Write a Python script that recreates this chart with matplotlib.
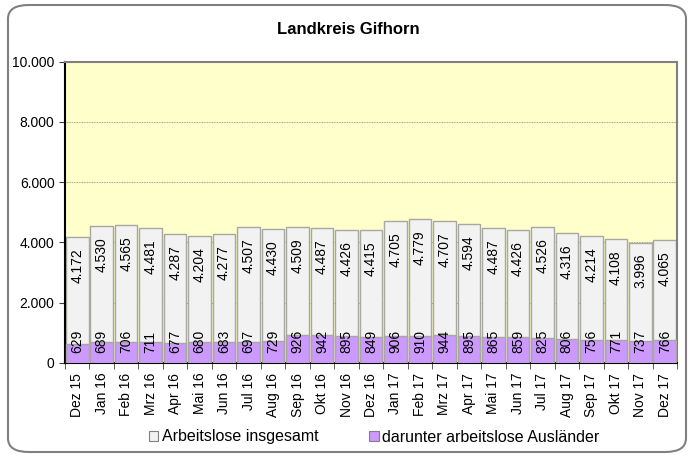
import matplotlib.pyplot as plt
from matplotlib.patches import FancyBboxPatch, Patch
from matplotlib.ticker import FuncFormatter, FixedLocator
import numpy as np

plt.rcParams['font.family'] = ['Liberation Sans', 'DejaVu Sans']

# Monatswerte Dez 2015 bis Dez 2017
months = ['Dez 15', 'Jan 16', 'Feb 16', 'Mrz 16', 'Apr 16', 'Mai 16', 'Jun 16',
          'Jul 16', 'Aug 16', 'Sep 16', 'Okt 16', 'Nov 16', 'Dez 16', 'Jan 17',
          'Feb 17', 'Mrz 17', 'Apr 17', 'Mai 17', 'Jun 17', 'Jul 17', 'Aug 17',
          'Sep 17', 'Okt 17', 'Nov 17', 'Dez 17']
total = [4172, 4530, 4565, 4481, 4287, 4204, 4277, 4507, 4430, 4509, 4487, 4426,
         4415, 4705, 4779, 4707, 4594, 4487, 4426, 4526, 4316, 4214, 4108, 3996, 4065]
foreigners = [629, 689, 706, 711, 677, 680, 683, 697, 729, 926, 942, 895, 849, 906,
              910, 944, 895, 865, 859, 825, 806, 756, 771, 737, 766]


def de_num(v):
    return f"{int(v):,}".replace(',', '.')


fig = plt.figure(figsize=(6.94, 4.57), dpi=100)
ax = fig.add_axes([65 / 694, 1 - 363 / 457, 612 / 694, 301.5 / 457])

# rounded frame around the whole chart
frame = FancyBboxPatch((8 / 694, 5 / 457), 678 / 694, 447 / 457,
                       boxstyle="round,pad=0,rounding_size=0.03",
                       transform=fig.transFigure, facecolor='white',
                       edgecolor='#808080', linewidth=1.5, zorder=-10)
fig.patches.append(frame)

x = np.arange(len(months))
ax.set_facecolor('#ffffcc')
ax.bar(x, total, width=0.92, color='#f2f2f2', edgecolor='#a8a8a0', linewidth=1, zorder=2)
ax.bar(x, foreigners, width=0.92, color='#cc99ff', edgecolor='#a8a8a0', linewidth=1, zorder=3)

for xi, t in zip(x, total):
    ax.annotate(de_num(t), (xi, t), xytext=(0, -8), textcoords='offset points',
                rotation=90, ha='center', va='top', fontsize=10, zorder=4)
for xi, f in zip(x, foreigners):
    ax.text(xi, 710, de_num(f), rotation=90, ha='center', va='center', fontsize=10, zorder=4)

ax.set_xlim(-0.5, len(months) - 0.5)
ax.set_ylim(0, 10000)
ax.set_yticks(range(0, 10001, 2000))
ax.yaxis.set_major_formatter(FuncFormatter(lambda v, p: de_num(v)))
ax.yaxis.grid(True, linestyle=(0, (1, 1)), color='#808080', linewidth=0.6, zorder=0)
ax.set_axisbelow(True)

ax.set_xticks(x)
ax.set_xticklabels(months, rotation=90, fontsize=10)
ax.xaxis.set_minor_locator(FixedLocator(np.arange(-0.5, len(months), 1)))
ax.tick_params(axis='x', which='major', length=0, pad=7)
ax.tick_params(axis='x', which='minor', length=4, color='#404040')
ax.tick_params(axis='y', length=4, labelsize=10, color='#404040')

for side in ['top', 'right']:
    ax.spines[side].set_color('#808080')
    ax.spines[side].set_linewidth(1.5)
for side in ['left', 'bottom']:
    ax.spines[side].set_color('black')
    ax.spines[side].set_linewidth(1.5)

fig.text(0.5 + 1 / 694, 1 - 30 / 457, 'Landkreis Gifhorn', ha='center', va='center',
         fontsize=12, fontweight='bold')

handles = [Patch(facecolor='#f2f2f2', edgecolor='#808080', linewidth=0.8),
           Patch(facecolor='#cc99ff', edgecolor='#808080', linewidth=0.8)]
fig.legend(handles, ['Arbeitslose insgesamt', 'darunter arbeitslose Ausländer'],
           loc='center', bbox_to_anchor=(374 / 694, 1 - 437 / 457), ncol=2,
           frameon=False, fontsize=11.5, handlelength=0.6, handleheight=0.6,
           handletextpad=0.2, columnspacing=3.2)

fig.savefig('out.png', dpi=100)
